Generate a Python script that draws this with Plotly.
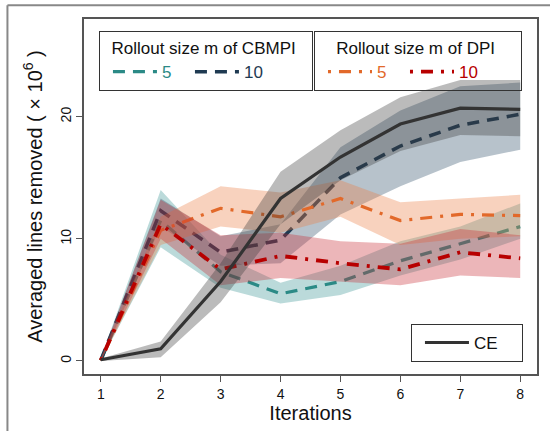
import plotly.graph_objects as go

iterations = [1, 2, 3, 4, 5, 6, 7, 8]

cbmpi5_mean = [0.05, 11.5, 7.3, 5.5, 6.5, 8.2, 9.6, 11.0]
cbmpi5_low = [0.0, 9.3, 6.0, 4.7, 5.4, 7.0, 8.3, 10.0]
cbmpi5_high = [0.2, 14.0, 8.7, 6.4, 7.8, 9.8, 11.0, 12.9]

cbmpi10_mean = [0.05, 12.3, 8.9, 9.9, 15.0, 17.6, 19.3, 20.2]
cbmpi10_low = [0.0, 11.0, 7.8, 8.0, 12.0, 14.3, 16.3, 17.3]
cbmpi10_high = [0.2, 13.3, 10.2, 11.2, 17.5, 20.5, 22.5, 22.8]

dpi5_mean = [0.05, 10.7, 12.5, 11.8, 13.3, 11.5, 12.0, 11.9]
dpi5_low = [0.0, 9.5, 11.0, 10.5, 11.8, 9.5, 10.0, 10.2]
dpi5_high = [0.2, 11.8, 14.3, 13.8, 14.8, 13.0, 13.3, 13.6]

dpi10_mean = [0.05, 11.2, 7.5, 8.6, 8.0, 7.5, 8.9, 8.4]
dpi10_low = [0.0, 10.0, 6.2, 6.8, 6.5, 6.2, 7.0, 6.8]
dpi10_high = [0.2, 13.2, 10.3, 10.5, 9.8, 9.6, 10.8, 10.3]

ce_mean = [0.1, 1.0, 6.5, 13.3, 16.7, 19.4, 20.7, 20.6]
ce_low = [0.0, 0.3, 4.8, 11.2, 14.8, 17.2, 18.5, 18.4]
ce_high = [0.2, 1.6, 8.0, 15.5, 18.9, 21.6, 23.0, 23.0]

y_ticks = [0, 10, 20]
x_ticks = iterations

series = [
    dict(name="5", mean=cbmpi5_mean, low=cbmpi5_low, high=cbmpi5_high,
         color="#2b8a86", band="rgba(60,150,150,0.35)", dash="12px,8px", width=3.2, legend="legend"),
    dict(name="10", mean=cbmpi10_mean, low=cbmpi10_low, high=cbmpi10_high,
         color="#1f3a52", band="rgba(50,80,105,0.35)", dash="12px,8px", width=3.5, legend="legend"),
    dict(name="5", mean=dpi5_mean, low=dpi5_low, high=dpi5_high,
         color="#e2692a", band="rgba(235,125,70,0.35)", dash="3px,8px,12px,8px", width=3.2, legend="legend2"),
    dict(name="10", mean=dpi10_mean, low=dpi10_low, high=dpi10_high,
         color="#b80000", band="rgba(200,45,55,0.35)", dash="3px,8px,12px,8px", width=3.8, legend="legend2"),
    dict(name="CE", mean=ce_mean, low=ce_low, high=ce_high,
         color="#333333", band="rgba(60,60,60,0.35)", dash="solid", width=3.2, legend="legend3"),
]

NB = "\u00a0"

fig = go.Figure()
for s in series:
    fig.add_trace(go.Scatter(
        x=iterations + iterations[::-1],
        y=s["high"] + s["low"][::-1],
        fill="toself", fillcolor=s["band"], line=dict(width=0),
        mode="lines", showlegend=False, hoverinfo="skip"))
    if s["name"] == "CE":
        label = "CE" + NB * 4
    else:
        label = '<span style="color:%s">%s</span>' % (s["color"], s["name"])
    fig.add_trace(go.Scatter(
        x=iterations, y=s["mean"], mode="lines", name=label,
        line=dict(color=s["color"], width=s["width"], dash=s["dash"]),
        legend=s["legend"]))

font_family = "Liberation Sans, Arial, sans-serif"
legend_common = dict(orientation="h", bordercolor="#333333", borderwidth=1,
                     bgcolor="rgba(255,255,255,0)", font=dict(size=17, color="#111111"),
                     xanchor="left", yanchor="top", itemwidth=44, entrywidth=15,
                     indentation=8, tracegroupgap=0)

fig.update_layout(
    width=550, height=431,
    margin=dict(l=84, r=11, t=19, b=57),
    paper_bgcolor="white", plot_bgcolor="white",
    font=dict(family=font_family, color="#111111"),
    showlegend=True,
    legend=dict(**legend_common, x=0.033, y=0.966,
                title=dict(text=NB * 2 + "Rollout size m of CBMPI" + NB * 3, side="top center",
                           font=dict(size=17))),
    legend2=dict(**legend_common, x=0.5077, y=0.966,
                 title=dict(text=NB * 4 + "Rollout size m of DPI" + NB * 5, side="top center",
                            font=dict(size=17))),
    legend3=dict(orientation="h", bordercolor="#333333", borderwidth=1,
                 bgcolor="rgba(255,255,255,0)", font=dict(size=17, color="#111111"),
                 itemwidth=44, indentation=8, x=0.969, y=0.034, xanchor="right", yanchor="bottom"),
    xaxis=dict(range=[0.72, 8.28], tickmode="array", tickvals=x_ticks,
               ticks="outside", ticklen=6, tickcolor="#555555", tickwidth=1,
               showline=True, mirror=True, linecolor="#555555", linewidth=1.5,
               showgrid=False, zeroline=False, tickfont=dict(size=14),
               title=dict(text="Iterations", font=dict(size=20), standoff=2)),
    yaxis=dict(range=[-1.07, 28.0], tickmode="array", tickvals=y_ticks,
               ticks="outside", ticklen=6, tickcolor="#555555", tickwidth=1, tickangle=-90,
               showline=True, mirror=True, linecolor="#555555", linewidth=1.5,
               showgrid=False, zeroline=False, tickfont=dict(size=14),
               title=dict(text="Averaged lines removed ( × 10<sup>6</sup> )", font=dict(size=20), standoff=10)),
    shapes=[
        dict(type="line", xref="paper", yref="paper", x0=-0.169, x1=1.05, y0=1.039, y1=1.039,
             line=dict(color="#888888", width=2)),
        dict(type="line", xref="paper", yref="paper", x0=-0.169, x1=-0.169, y0=1.039, y1=-0.17,
             line=dict(color="#888888", width=2)),
    ],
)

fig.write_html("out.html")
